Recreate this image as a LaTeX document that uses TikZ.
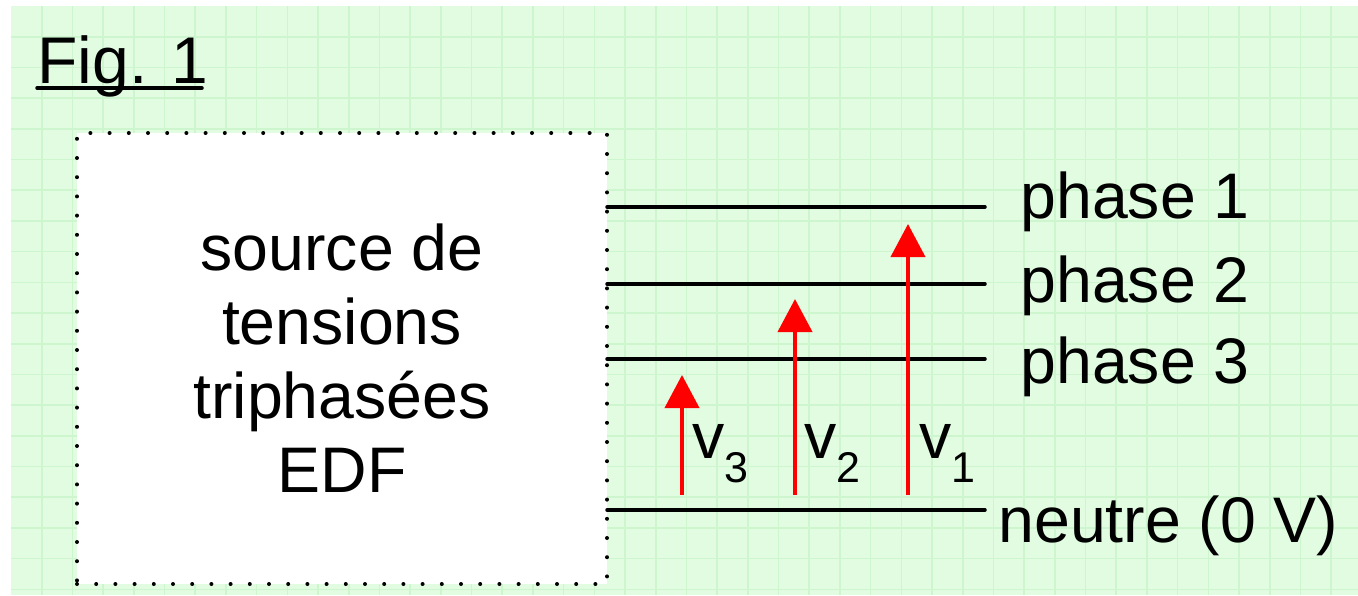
\documentclass[tikz,border=0pt]{standalone}
\usepackage{fontspec}
\setmainfont{Liberation Sans}
\usepackage{xcolor}
\usetikzlibrary{arrows.meta, positioning}
\definecolor{paper}{RGB}{226,252,226}
\definecolor{gridgreen}{RGB}{206,246,206}
\newcommand{\volt}[1]{v\raisebox{-12pt}{\fontsize{21.5}{21.5}\selectfont #1}}

\begin{document}
\begin{tikzpicture}[
    x=0.5pt, y=-0.5pt,
    txt/.style={inner sep=0pt, font=\fontsize{32.2}{37}\selectfont},
    srcbox/.style={draw, line width=2pt, dash pattern=on 0pt off 9.6pt, line cap=round,
                   fill=white, minimum width=265pt, minimum height=225.5pt, outer sep=0pt,
                   align=center, font=\fontsize{32.2}{37}\selectfont},
    wire/.style={line width=1.75pt, line cap=round},
    arr/.style={-{Triangle[length=16.5pt, width=17pt]}, red, line width=2pt},
    gridline/.style={gridgreen, line width=0.8pt}
]
\useasboundingbox (0,0) rectangle (1358,595);
\fill[paper] (11,6) rectangle (1358,595);
\foreach \i in {1,...,43} \draw[gridline] (11+\i*30.7,6) -- (11+\i*30.7,595);
\foreach \j in {1,...,19} \draw[gridline] (11,6+\j*30.7) -- (1358,6+\j*30.7);

\node[txt, anchor=base west, font=\fontsize{33}{37}\selectfont] (fig) at (37,83) {Fig. 1};
\draw[wire] (37,88) -- (202,88);

\node[srcbox] (src) at (342,358.5) {source de\\tensions\\triphasées\\EDF};

\coordinate (p1) at (985,207);
\coordinate (p2) at (985,284);
\coordinate (p3) at (985,359);
\coordinate (n0) at (985,510);
\draw[wire] (src.east |- p1) -- (p1);
\draw[wire] (src.east |- p2) -- (p2);
\draw[wire] (src.east |- p3) -- (p3);
\draw[wire] (src.east |- n0) -- (n0);

\node[txt, anchor=base west] (l1) at (1020,218) {phase 1};
\node[txt, anchor=base west] (l2) at (1020,302) {phase 2};
\node[txt, anchor=base west] (l3) at (1020,383) {phase 3};
\node[txt, anchor=base west] (l0) at (998,542) {neutre (0 V)};

\coordinate (a1) at (908,495); \coordinate (t1) at (908,224);
\coordinate (a2) at (795,495); \coordinate (t2) at (795,299);
\coordinate (a3) at (682,495); \coordinate (t3) at (682,375);
\draw[arr] (a1) -- (t1);
\draw[arr] (a2) -- (t2);
\draw[arr] (a3) -- (t3);

\node[txt, anchor=base west] (v1) at (919,458) {\volt{1}};
\node[txt, anchor=base west] (v2) at (804,458) {\volt{2}};
\node[txt, anchor=base west] (v3) at (692,458) {\volt{3}};
\end{tikzpicture}
\end{document}
